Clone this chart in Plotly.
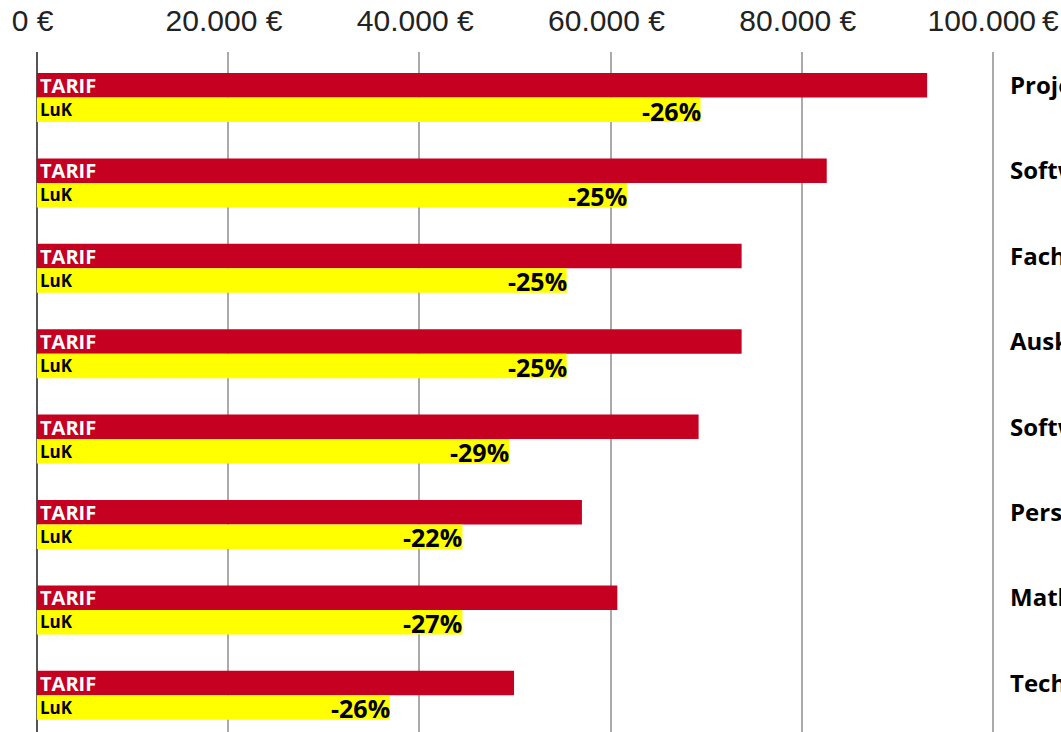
import plotly.graph_objects as go

categories = ["Projektleiter", "Softwarearchitekt", "Fachinformatiker", "Auskunftei",
              "Softwareentwickler", "Personalreferent", "Mathematiker", "Techniker"]
tarif_values = [93100, 82600, 73700, 73700, 69200, 57000, 60700, 49900]
luk_values = [69400, 61700, 55400, 55400, 49400, 44500, 44500, 36900]
diff_labels = ["-26%", "-25%", "-25%", "-25%", "-29%", "-22%", "-27%", "-26%"]
tick_values = [0, 20000, 40000, 60000, 80000, 100000]
tick_labels = ["0 €", "20.000 €", "40.000 €", "60.000 €", "80.000 €", "100.000\u2009€"]

RED = "#C60021"
YELLOW = "#FFFF00"
FONT = "Open Sans"

fig = go.Figure()
fig.add_trace(go.Bar(name="TARIF", y=categories, x=tarif_values, orientation="h",
                     marker=dict(color=RED, line=dict(width=0)), hoverinfo="skip"))
fig.add_trace(go.Bar(name="LuK", y=categories, x=luk_values, orientation="h",
                     marker=dict(color=YELLOW, line=dict(width=0)), hoverinfo="skip"))

annotations = []
for cat, t, l, d in zip(categories, tarif_values, luk_values, diff_labels):
    annotations.append(dict(x=0, y=cat, xref="x", yref="y", text="<b>TARIF</b>",
                            showarrow=False, xanchor="left", yanchor="middle",
                            xshift=1, yshift=12,
                            font=dict(family=FONT, size=20, color="white")))
    annotations.append(dict(x=0, y=cat, xref="x", yref="y", text="<b>LuK</b>",
                            showarrow=False, xanchor="left", yanchor="middle",
                            xshift=1, yshift=-12,
                            font=dict(family=FONT, size=17, color="black")))
    annotations.append(dict(x=l, y=cat, xref="x", yref="y", text="<b>" + d + "</b>",
                            showarrow=False, xanchor="right", yanchor="middle",
                            xshift=2, yshift=-13,
                            font=dict(family=FONT, size=25, color="black")))
    annotations.append(dict(x=1, y=cat, xref="paper", yref="y", text="<b>" + cat + "</b>",
                            showarrow=False, xanchor="left", yanchor="middle",
                            xshift=12, yshift=13,
                            font=dict(family=FONT, size=24, color="black")))

ticktext = [s + "\u00a0" for s in tick_labels[:-1]] + [tick_labels[-1]]

fig.update_layout(
    width=1061, height=732,
    margin=dict(l=34, r=65, t=52, b=0, autoexpand=False),
    paper_bgcolor="white", plot_bgcolor="white",
    barmode="group", bargap=0.426, bargroupgap=0,
    showlegend=False,
    annotations=annotations,
    xaxis=dict(side="top", range=[-300, 100300], tickvals=tick_values,
               ticktext=ticktext,
               tickfont=dict(family="Liberation Sans", size=30, color="#222222"),
               showgrid=True, gridcolor="#AAAAAA", gridwidth=2,
               zeroline=True, zerolinecolor="#555555", zerolinewidth=2,
               ticks="", ticklabelstandoff=14, ticklabeloverflow="allow",
               showline=False, fixedrange=True, automargin=False),
    yaxis=dict(range=[7.43, -0.533], showticklabels=False, showgrid=False,
               zeroline=False, ticks="", showline=False, fixedrange=True,
               automargin=False),
)

fig.write_html("out.html", config={"displayModeBar": False},
               post_script="document.body.style.margin='0';document.body.style.overflow='hidden';")
